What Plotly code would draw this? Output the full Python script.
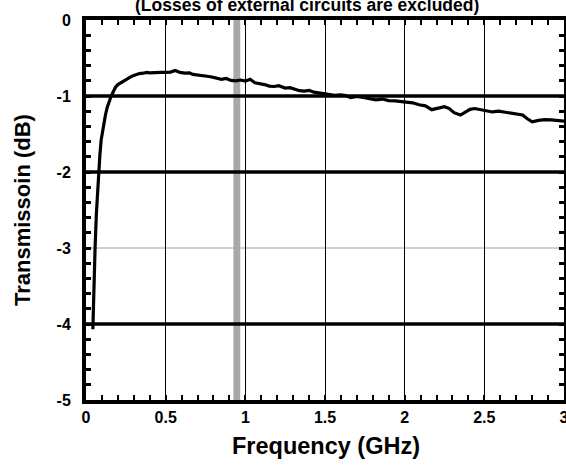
import plotly.graph_objects as go

freq = [0.043, 0.047, 0.052, 0.057, 0.065, 0.078, 0.087, 0.095, 0.103, 0.111,
        0.122, 0.133, 0.145, 0.158, 0.172, 0.185, 0.2, 0.215, 0.229, 0.25,
        0.27, 0.283, 0.3, 0.335, 0.36, 0.38, 0.4, 0.44, 0.47, 0.5,
        0.53, 0.56, 0.59, 0.62, 0.65, 0.67, 0.7, 0.73, 0.76, 0.79,
        0.82, 0.85, 0.88, 0.91, 0.94, 0.97, 1.0, 1.03, 1.06, 1.09,
        1.12, 1.15, 1.18, 1.21, 1.25, 1.28, 1.31, 1.34, 1.37, 1.40,
        1.43, 1.46, 1.50, 1.53, 1.56, 1.60, 1.63, 1.66, 1.70, 1.74,
        1.78, 1.82, 1.86, 1.90, 1.94, 1.98, 2.01, 2.05, 2.09, 2.13,
        2.17, 2.21, 2.25, 2.28, 2.31, 2.35, 2.38, 2.41, 2.44, 2.48,
        2.51, 2.55, 2.59, 2.63, 2.67, 2.71, 2.74, 2.77, 2.80, 2.84,
        2.88, 2.92, 2.96, 3.0]
trans_db = [-4.07, -3.70, -3.30, -3.00, -2.55, -2.00, -1.78, -1.58, -1.46, -1.36,
            -1.25, -1.15, -1.07, -1.00, -0.94, -0.885, -0.85, -0.83, -0.815, -0.79,
            -0.76, -0.745, -0.73, -0.705, -0.70, -0.69, -0.695, -0.688, -0.69, -0.69,
            -0.685, -0.665, -0.69, -0.70, -0.695, -0.715, -0.72, -0.735, -0.74, -0.75,
            -0.76, -0.78, -0.77, -0.795, -0.80, -0.79, -0.805, -0.78, -0.825, -0.835,
            -0.85, -0.87, -0.875, -0.865, -0.895, -0.89, -0.91, -0.93, -0.935, -0.925,
            -0.95, -0.96, -0.975, -0.98, -0.99, -0.985, -0.995, -1.02, -1.005, -1.02,
            -1.03, -1.05, -1.04, -1.06, -1.065, -1.075, -1.085, -1.09, -1.115, -1.13,
            -1.18, -1.155, -1.14, -1.165, -1.22, -1.25, -1.21, -1.175, -1.165, -1.185,
            -1.195, -1.21, -1.20, -1.215, -1.22, -1.235, -1.25, -1.30, -1.34, -1.32,
            -1.31, -1.315, -1.32, -1.33]

x_tick_vals = [0, 0.5, 1, 1.5, 2, 2.5, 3]
x_tick_text = ["0", "0.5", "1", "1.5", "2", "2.5", "3"]
y_tick_vals = [0, -1, -2, -3, -4, -5]
y_tick_text = ["0", "-1", "-2", "-3", "-4", "-5"]
thick_grid_y = [-1, -2, -4]
thin_grid_y = [-3]
band_x = [0.925, 0.968]

title_text = "(Losses of external circuits are excluded)"
x_title = "Frequency (GHz)"
y_title = "Transmissoin (dB)"

FONT = "Arial, Liberation Sans, sans-serif"
W, H = 566, 469
L, R, T, B = 86, 2, 20, 69
PW, PH = W - L - R, H - T - B

fig = go.Figure()
fig.add_trace(go.Scatter(x=freq, y=trans_db, mode="lines",
                         line=dict(color="black", width=3.2),
                         showlegend=False))

shapes = []
shapes.append(dict(type="rect", xref="x", yref="paper", x0=band_x[0], x1=band_x[1],
                   y0=0, y1=1.008, fillcolor="#a8a8a8", line=dict(width=0), layer="below"))
for yv in thick_grid_y:
    shapes.append(dict(type="line", xref="paper", yref="y", x0=0, x1=1, y0=yv, y1=yv,
                       line=dict(color="black", width=3.5), layer="below"))
for yv in thin_grid_y:
    shapes.append(dict(type="line", xref="paper", yref="y", x0=0, x1=1, y0=yv, y1=yv,
                       line=dict(color="#a0a0a0", width=1), layer="below"))

annotations = [
    dict(text="<b>" + title_text + "</b>", xref="paper", yref="paper",
         x=(307 - L) / PW, y=1 + (T - 5.5) / PH, xanchor="center", yanchor="middle",
         showarrow=False, font=dict(size=17.5, family=FONT)),
    dict(text="<b>" + x_title + "</b>", xref="paper", yref="paper",
         x=(326 - L) / PW, y=-(446 - (H - B)) / PH, xanchor="center", yanchor="middle",
         showarrow=False, font=dict(size=23.5, family=FONT)),
    dict(text="<b>" + y_title + "</b>", xref="paper", yref="paper",
         x=-(L - 22) / PW, y=(H - B - 210) / PH, xanchor="center", yanchor="middle",
         textangle=-90, showarrow=False, font=dict(size=22, family=FONT)),
]

fig.update_layout(
    width=W, height=H,
    margin=dict(l=L, r=R, t=T, b=B, autoexpand=False),
    paper_bgcolor="white", plot_bgcolor="white",
    font=dict(family=FONT, color="black"),
    shapes=shapes, annotations=annotations,
)

fig.update_xaxes(
    range=[0, 3], tickvals=x_tick_vals, ticktext=["<b>%s</b>" % t for t in x_tick_text],
    tickfont=dict(size=16, family=FONT), automargin=False, ticklabeloverflow="allow",
    showline=True, linecolor="black", linewidth=4, mirror="allticks",
    ticks="inside", ticklen=5, tickwidth=1.5, tickcolor="black",
    minor=dict(dtick=0.1, tick0=0, ticks="inside", ticklen=5, tickwidth=1.5, tickcolor="black", showgrid=False),
    showgrid=True, gridcolor="black", gridwidth=1,
    zeroline=False,
)
fig.update_yaxes(
    range=[-5, 0], tickvals=y_tick_vals, ticktext=["<b>%s</b>" % t for t in y_tick_text],
    tickfont=dict(size=16, family=FONT), automargin=False, ticklabeloverflow="allow",
    showline=True, linecolor="black", linewidth=4, mirror="allticks",
    ticks="inside", ticklen=5, tickwidth=2.5, tickcolor="black",
    minor=dict(dtick=0.2, tick0=0, ticks="inside", ticklen=5, tickwidth=2.5, tickcolor="black", showgrid=False),
    showgrid=False, zeroline=False, ticklabelstandoff=8,
)

fig.write_html("out.html")
